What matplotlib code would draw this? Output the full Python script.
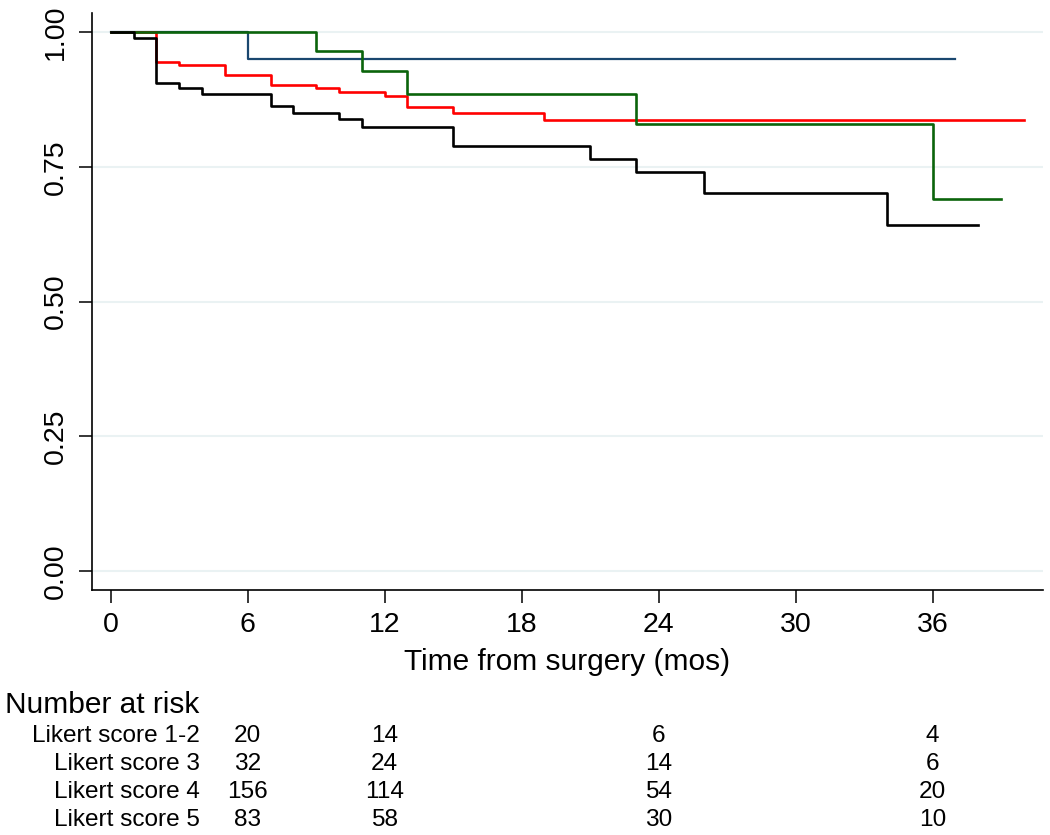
import matplotlib
matplotlib.use('Agg')
import matplotlib.pyplot as plt
from matplotlib.transforms import blended_transform_factory

plt.rcParams['font.family'] = ['Liberation Sans', 'DejaVu Sans']

# Kaplan-Meier Kurven
t_12 = [0, 6, 37]
s_12 = [1.0, 0.95, 0.95]

t_3 = [0, 9, 11, 13, 23, 36, 39]
s_3 = [1.0, 0.966, 0.929, 0.885, 0.829, 0.690, 0.690]

t_4 = [0, 2, 3, 5, 7, 9, 10, 12, 13, 15, 19, 40]
s_4 = [1.0, 0.944, 0.939, 0.921, 0.903, 0.896, 0.889, 0.881, 0.862, 0.851, 0.838, 0.838]

t_5 = [0, 1, 2, 3, 4, 7, 8, 10, 11, 15, 21, 23, 26, 34, 38]
s_5 = [1.0, 0.990, 0.906, 0.896, 0.886, 0.863, 0.851, 0.839, 0.824, 0.788, 0.764, 0.740, 0.702, 0.643, 0.643]

# Number at risk
risk_times = [6, 12, 24, 36]
risk_labels = ['Likert score 1-2', 'Likert score 3', 'Likert score 4', 'Likert score 5']
risk_12 = [20, 14, 6, 4]
risk_3 = [32, 24, 14, 6]
risk_4 = [156, 114, 54, 20]
risk_5 = [83, 58, 30, 10]

x_ticks = [0, 6, 12, 18, 24, 30, 36]
y_ticks = [0.0, 0.25, 0.5, 0.75, 1.0]

W, H = 1050, 835
fig = plt.figure(figsize=(W / 100, H / 100), dpi=100)
ax = fig.add_axes([91.7 / W, 1 - 590 / H, (1043.3 - 91.7) / W, (590 - 13.3) / H])

ax.step(t_12, s_12, where='post', color='#1a476f', lw=1.6, zorder=3)
ax.step(t_4, s_4, where='post', color='#ff0000', lw=1.9, zorder=4)
ax.step(t_3, s_3, where='post', color='#0b640b', lw=1.9, zorder=5)
ax.step(t_5, s_5, where='post', color='black', lw=1.9, zorder=6)

ax.set_xlim(-0.832, 40.85)
ax.set_ylim(-0.0358, 1.0353)

ax.set_xticks(x_ticks)
ax.set_yticks(y_ticks)
ax.set_yticklabels(['0.00', '0.25', '0.50', '0.75', '1.00'], rotation=90, va='center')
ax.tick_params(axis='both', labelsize=20.5, length=9.1, width=1.1, color='black')
ax.tick_params(axis='x', pad=6.5)
ax.tick_params(axis='y', pad=7.5)

ax.grid(axis='y', color='#eaf2f3', lw=1.5, zorder=0)
ax.set_axisbelow(True)

for side in ['top', 'right']:
    ax.spines[side].set_visible(False)
for side in ['left', 'bottom']:
    ax.spines[side].set_linewidth(1.2)

ax.set_xlabel('Time from surgery (mos)', fontsize=21.5, va='baseline')
ax.xaxis.set_label_coords(0.5, (590 - 670) / (590 - 13.3))

# Tabelle unter der Grafik
trans = blended_transform_factory(ax.transData, fig.transFigure)
fig.text(5 / W, 1 - 712.7 / H, 'Number at risk', fontsize=21.5, va='baseline', ha='left')

row_base = [741.7, 770.0, 798.3, 826.0]
for label, werte, yb in zip(risk_labels, [risk_12, risk_3, risk_4, risk_5], row_base):
    fig.text(200 / W, 1 - yb / H, label, fontsize=17.6, ha='right', va='baseline')
    for t, n in zip(risk_times, werte):
        ax.text(t, 1 - yb / H, str(n), transform=trans, fontsize=17.6,
                ha='center', va='baseline')

fig.savefig('out.png', dpi=100)
